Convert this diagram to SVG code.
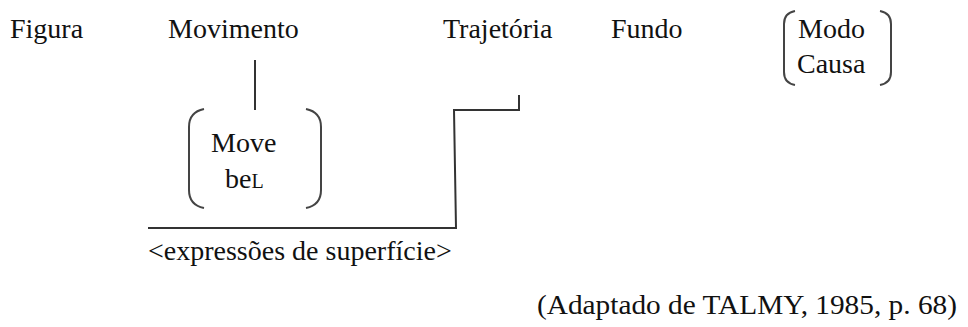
<svg xmlns="http://www.w3.org/2000/svg" width="968" height="327" viewBox="0 0 968 327">
<style>
text{font-family:"Liberation Serif","Times New Roman",serif;font-size:28px;fill:#111}
.ln{fill:none;stroke:#333;stroke-width:2}
.br{fill:none;stroke:#444;stroke-width:2}
</style>
<rect width="968" height="327" fill="#fff"/>
<g id="figura"><text x="10" y="38">Figura</text></g>
<g id="movimento"><text x="168" y="38">Movimento</text></g>
<g id="trajetoria"><text x="443" y="38">Trajetória</text></g>
<g id="fundo"><text x="611" y="38">Fundo</text></g>
<g id="modo-causa">
<path class="br" d="M795,11 Q784,13 784,24 L784,72 Q784,83 795,85"/>
<path class="br" d="M880,11 Q891,13 891,24 L891,72 Q891,83 880,85"/>
<text x="798" y="38">Modo</text>
<text x="797" y="73">Causa</text>
</g>
<g id="move-bel">
<path class="br" d="M204,109 Q189,112 189,127 L189,190 Q189,205 204,208"/>
<path class="br" d="M306,109 Q321,112 321,127 L321,190 Q321,205 306,208"/>
<text x="211" y="152">Move</text>
<text x="225" y="188">be<tspan font-size="20">L</tspan></text>
</g>
<g id="expressoes"><text x="148" y="260">&lt;expressões de superfície&gt;</text></g>
<g id="fonte"><text x="537" y="314" textLength="420" lengthAdjust="spacingAndGlyphs">(Adaptado de TALMY, 1985, p. 68)</text></g>
<g id="connectors">
<path class="ln" d="M255,60 V110"/>
<path class="ln" d="M519,95 V110 H454 L456,228 H148"/>
</g>
</svg>
